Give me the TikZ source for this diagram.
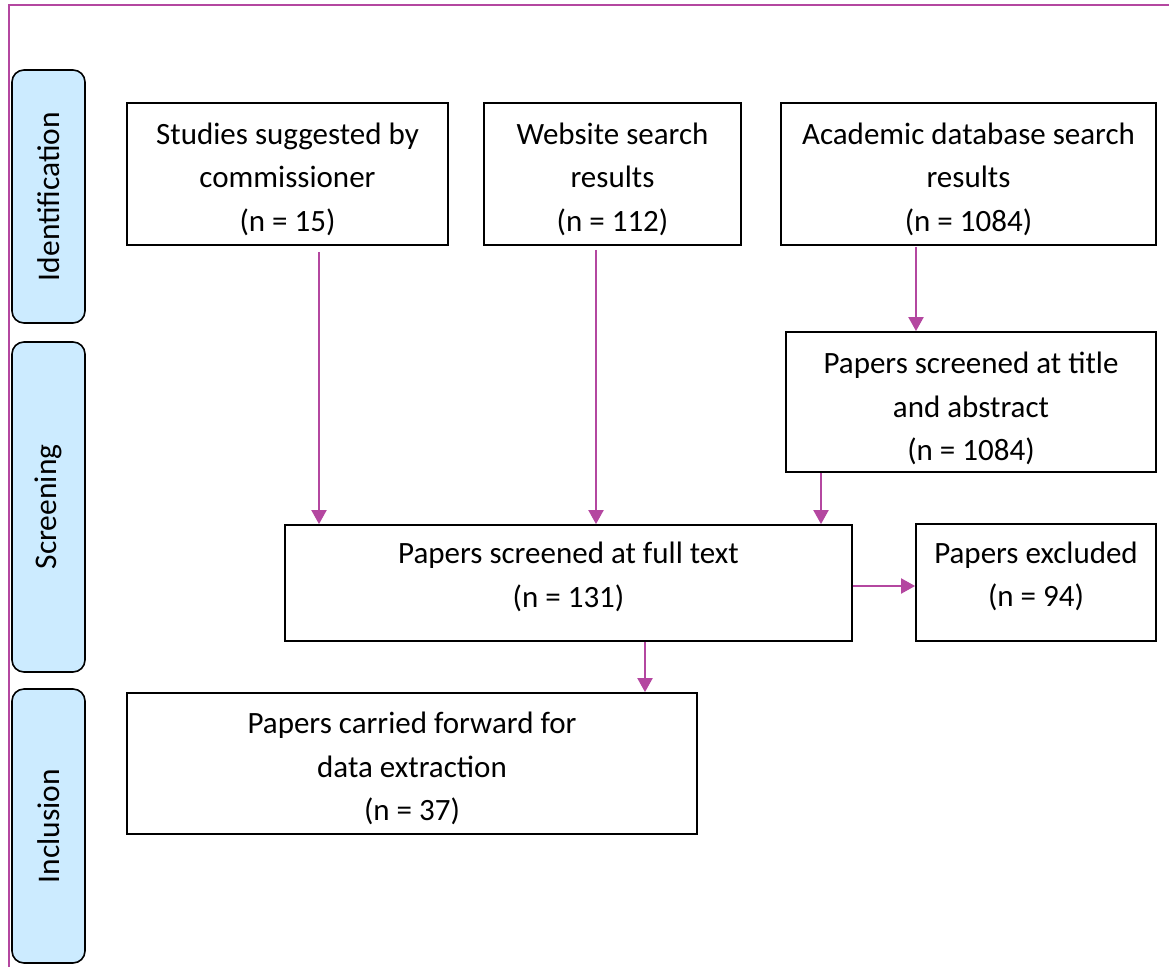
\documentclass[tikz,border=0pt]{standalone}
\usepackage{fontspec}
\setmainfont{Carlito}
\usetikzlibrary{arrows.meta}
\definecolor{purp}{RGB}{180,71,160}
\definecolor{lblue}{RGB}{204,235,255}
\newcommand{\topstrut}[1]{\rule{0pt}{#1pt}}
\tikzset{
  box/.style={draw=black, line width=1.8pt, align=center, inner sep=0pt,
    font=\fontsize{31}{43.5}\selectfont},
  stage/.style={draw=black, fill=lblue, line width=1.6pt, rounded corners=12pt,
    rotate=90, minimum height=73pt, inner sep=0pt, font=\fontsize{31.5}{38}\selectfont},
  arr/.style={draw=purp, line width=2pt, -{Triangle[width=15pt,length=14pt]}},
  frame/.style={draw=purp, line width=2.2pt}
}
\begin{document}
\begin{tikzpicture}[x=1pt,y=-1pt]
\useasboundingbox (0,0) rectangle (1169,967);
% frame
\coordinate (fl) at (9,967);
\coordinate (ftl) at (9,5);
\coordinate (ftr) at (1169,5);
\draw[frame] (fl) -- (ftl) -- (ftr);
% stages
\node[stage, minimum width=253pt] (ident) at (48.5,196.5) {Identification};
\node[stage, minimum width=330pt] (screen) at (48.5,507) {Screening};
\node[stage, minimum width=274pt] (incl) at (48.5,826) {Inclusion};
% boxes
\node[box, minimum width=321pt, minimum height=142pt] (studies) at (287.5,174)
  {\topstrut{32}Studies suggested by\\commissioner\\(n = 15)};
\node[box, minimum width=257pt, minimum height=142pt] (web) at (612.5,174)
  {\topstrut{32}Website search\\results\\(n = 112)};
\node[box, minimum width=375pt, minimum height=142pt] (acad) at (968.5,174)
  {\topstrut{32}Academic database search\\results\\(n = 1084)};
\node[box, minimum width=370pt, minimum height=140pt] (title) at (971,402)
  {\topstrut{35}Papers screened at title\\and abstract\\(n = 1084)};
\node[box, minimum width=567pt, minimum height=116pt] (full) at (568.5,583)
  {Papers screened at full text\\(n = 131)\\[-27pt]\mbox{}};
\node[box, minimum width=240pt, minimum height=117pt] (excl) at (1036,582.5)
  {Papers excluded\\(n = 94)\\[-27pt]\mbox{}};
\node[box, minimum width=570pt, minimum height=141pt] (carried) at (412,763.5)
  {\topstrut{32}Papers carried forward for\\data extraction\\(n = 37)};
% arrows
\draw[arr] ([xshift=31.5pt,yshift=-6pt]studies.south) -- ([xshift=31.5pt]studies.south |- full.north);
\draw[arr] ([xshift=-16.5pt,yshift=-4pt]web.south) -- ([xshift=-16.5pt]web.south |- full.north);
\draw[arr] ([xshift=-52.5pt,yshift=-1pt]acad.south) -- ([xshift=-52.5pt]acad.south |- title.north);
\draw[arr] ([xshift=-150pt]title.south) -- ([xshift=-150pt]title.south |- full.north);
\draw[arr] ([yshift=-3pt]full.east) -- ([yshift=-3pt]full.east -| excl.west);
\draw[arr] ([xshift=76.5pt]full.south) -- ([xshift=76.5pt]full.south |- carried.north);
\end{tikzpicture}
\end{document}
